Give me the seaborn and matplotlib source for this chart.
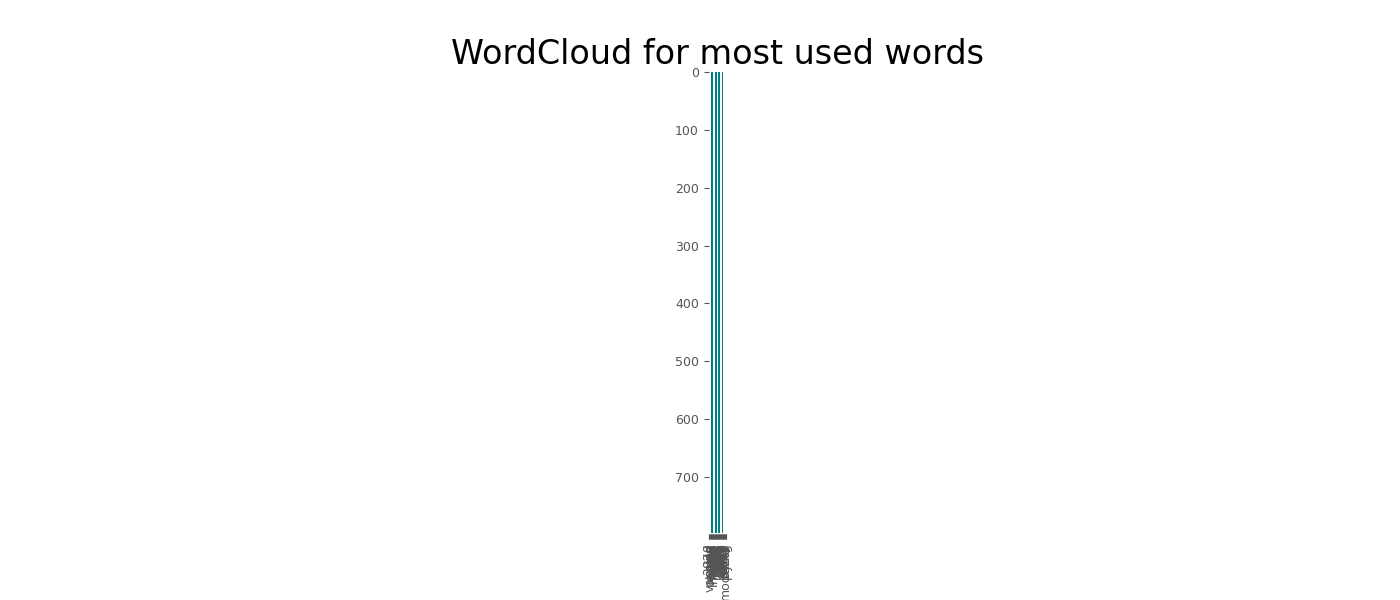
import numpy as np
import pandas as pd
import matplotlib
matplotlib.use("Agg")
import matplotlib.pyplot as plt
import seaborn as sns

# Words on the x axis (labels are illegible in the reference, so best guesses)
words = ['2020', 'covid', 'vaccine', 'people', 'today', 'new', 'cases', 'health',
         'world', 'time', 'day', 'good', 'help', 'home', 'need', 'work',
         'year', 'news', 'great', 'safe', 'stay', 'first', 'dose', 'week',
         'ready', 'daily', 'study', 'trial', 'pfizer', 'moderna', 'dying']

# Teal stripes seen in the image area (x position in word index, length)
stripe_x = [5.4, 12.3, 18.0, 23.7]
stripe_len = [797, 797, 797, 797]

img_height = 800

plt.style.use('ggplot')
plt.rcParams['font.family'] = ['DejaVu Sans']

df = pd.DataFrame({'x': stripe_x, 'len': stripe_len})

fig, ax = plt.subplots(figsize=(14, 6), dpi=100)
ax.set_facecolor('white')

sns.barplot(data=df, x='x', y='len', native_scale=True, color='#008080',
            width=0.55, saturation=1, linewidth=0, ax=ax)

ax.set_xticks(range(len(words)))
ax.set_xticklabels(words, rotation=90, fontsize=9, color='#555555')
ax.tick_params(axis='y', labelsize=9, colors='#555555')
ax.set_xlim(-0.5, len(words) - 0.5)
ax.set_ylim(img_height - 0.5, -0.5)
ax.set_aspect('equal')
ax.grid(False)
ax.set_xlabel('')
ax.set_ylabel('')
for s in ax.spines.values():
    s.set_visible(False)

ax.set_title("WordCloud for most used words", fontsize=24, color='black')

plt.savefig("out.png")
